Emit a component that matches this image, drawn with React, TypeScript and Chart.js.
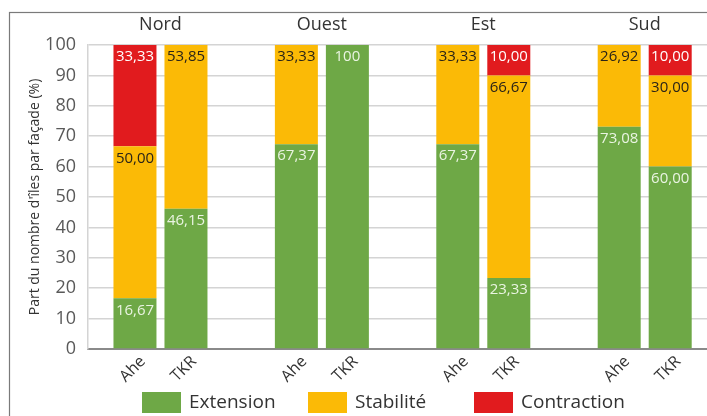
import React, { useEffect, useRef } from "react";
import { Chart, registerables } from "chart.js";

Chart.register(...registerables);

// ---- data ----
const groups = ["Nord", "Ouest", "Est", "Sud"];
const sites = ["Ahe", "TKR"];
const seriesNames = ["Extension", "Stabilité", "Contraction"];
// values per group [Nord, Ouest, Est, Sud]
const extensionAhe = [16.67, 67.37, 67.37, 73.08];
const stabiliteAhe = [50.0, 33.33, 33.33, 26.92];
const contractionAhe = [33.33, 0, 0, 0];
const extensionTKR = [46.15, 100, 23.33, 60.0];
const stabiliteTKR = [53.85, 0, 66.67, 30.0];
const contractionTKR = [0, 0, 10.0, 10.0];
const yTicks = [0, 10, 20, 30, 40, 50, 60, 70, 80, 90, 100];

// ---- style ----
const COLORS = ["#6EA846", "#FBBA06", "#E11B1E"];
const LABEL_COLORS = ["#EAF4E2", "#2A2418", "#FFFFFF"];
const FONT = "'Open Sans', 'Noto Sans', sans-serif";

const fmt = (v: number) => (v === 100 ? "100" : v.toFixed(2).replace(".", ","));

const seriesBySite: Record<string, number[][]> = {
  Ahe: [extensionAhe, stabiliteAhe, contractionAhe],
  TKR: [extensionTKR, stabiliteTKR, contractionTKR],
};

const decorPlugin = {
  id: "decor",
  beforeDraw(chart: any) {
    const { ctx, width, height } = chart;
    ctx.save();
    ctx.fillStyle = "#ffffff";
    ctx.fillRect(0, 0, width, height);
    ctx.strokeStyle = "#7a7a7a";
    ctx.lineWidth = 1.2;
    ctx.strokeRect(9.5, 12.5, width + 20, height + 20);
    ctx.restore();
  },
  afterDatasetsDraw(chart: any) {
    const { ctx, chartArea } = chart;
    const xScale = chart.scales.x;
    ctx.save();
    // value labels
    ctx.font = `15px ${FONT}`;
    ctx.textAlign = "center";
    ctx.textBaseline = "middle";
    chart.data.datasets.forEach((ds: any, di: number) => {
      const meta = chart.getDatasetMeta(di);
      meta.data.forEach((el: any, j: number) => {
        const v = ds.data[j].y;
        if (!v) return;
        const top = Math.max(el.y, chartArea.top);
        ctx.fillStyle = LABEL_COLORS[ds.seriesIndex];
        ctx.fillText(fmt(v), el.x, top + 12);
      });
    });
    // group titles
    ctx.fillStyle = "#333333";
    ctx.font = `18px ${FONT}`;
    groups.forEach((g, i) => {
      ctx.fillText(g, xScale.getPixelForValue(i), 25);
    });
    // site labels rotated
    ctx.font = `16px ${FONT}`;
    ctx.textAlign = "right";
    chart.data.datasets.forEach((ds: any, di: number) => {
      if (ds.seriesIndex !== 0) return;
      const meta = chart.getDatasetMeta(di);
      meta.data.forEach((el: any) => {
        ctx.save();
        ctx.translate(el.x + 8, chartArea.bottom + 10);
        ctx.rotate(-Math.PI / 4);
        ctx.fillText(ds.stack, 0, 0);
        ctx.restore();
      });
    });
    // legend
    ctx.font = `19px ${FONT}`;
    ctx.textAlign = "left";
    const legendLeft = 142;
    const step = 166;
    seriesNames.forEach((n, i) => {
      const x = legendLeft + i * step;
      ctx.fillStyle = COLORS[i];
      ctx.fillRect(x, 392, 39, 21);
      ctx.fillStyle = "#333333";
      ctx.fillText(n, x + 47, 403);
    });
    ctx.restore();
  },
};

export default function App() {
  const ref = useRef<HTMLCanvasElement>(null);
  useEffect(() => {
    if (!ref.current) return;
    const datasets: any[] = [];
    sites.forEach((site) => {
      seriesBySite[site].forEach((vals, si) => {
        datasets.push({
          label: seriesNames[si],
          seriesIndex: si,
          stack: site,
          data: vals.map((v, i) => ({ x: i, y: v })),
          backgroundColor: COLORS[si],
          borderWidth: 0,
          categoryPercentage: 0.632,
          barPercentage: 0.843,
        });
      });
    });
    const chart = new Chart(ref.current, {
      type: "bar",
      data: { datasets },
      plugins: [decorPlugin],
      options: {
        responsive: false,
        animation: false,
        layout: { padding: { top: 45, bottom: 67, left: 0, right: 0 } },
        plugins: { legend: { display: false }, tooltip: { enabled: false } },
        scales: {
          x: {
            type: "linear",
            offset: false,
            min: -0.449,
            max: 3.386,
            stacked: true,
            ticks: { display: false, stepSize: 1, includeBounds: false },
            grid: { display: false, drawTicks: false, offset: false },
            border: { display: true, color: "#8a8a8a", width: 2 },
            afterFit: (s: any) => {
              s.height = 0;
            },
          },
          y: {
            min: 0,
            max: 100,
            stacked: true,
            afterBuildTicks: (s: any) => {
              s.ticks = yTicks.map((v) => ({ value: v }));
            },
            ticks: {
              color: "#595959",
              font: { family: FONT, size: 18 },
              padding: 12,
            },
            grid: { color: "#d4d4d4", lineWidth: 1.5, drawTicks: false },
            border: { display: true, color: "#d4d4d4", width: 1.5 },
            title: {
              display: true,
              text: "Part du nombre d'îles par façade (%)",
              color: "#333333",
              font: { family: FONT, size: 14 },
              padding: { top: 27, bottom: 0 },
            },
            afterFit: (s: any) => {
              s.width = 88;
            },
          },
        },
      } as any,
    });
    return () => chart.destroy();
  }, []);
  return (
    <div style={{ position: "fixed", left: 0, top: 0, width: 707, height: 416 }}>
      <canvas ref={ref} width={707} height={416} />
    </div>
  );
}
